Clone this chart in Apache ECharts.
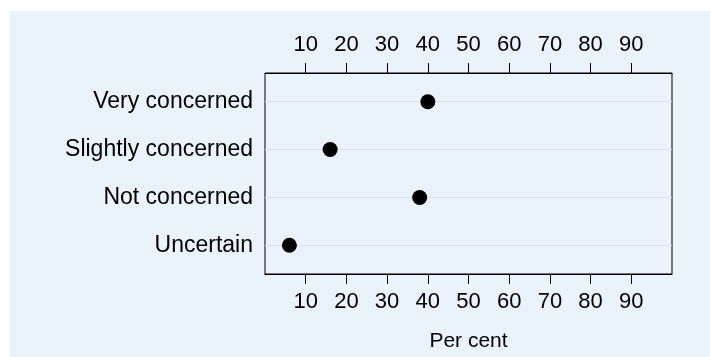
<!DOCTYPE html>
<html>
<head>
<meta charset="utf-8">
<script src="https://cdn.jsdelivr.net/npm/echarts@6/dist/echarts.min.js"></script>
<style>
html,body{margin:0;padding:0;background:#ffffff;}
#chart{width:710px;height:357px;}
</style>
</head>
<body>
<div id="chart"></div>
<script>
const categories = ["Very concerned", "Slightly concerned", "Not concerned", "Uncertain"];
const percent = [40, 16, 38, 6];
const tickValues = [10, 20, 30, 40, 50, 60, 70, 80, 90];
const xName = "Per cent";

const chart = echarts.init(document.getElementById('chart'), null, {renderer: 'canvas'});
const FONT = '"Liberation Sans", Arial, sans-serif';
const catPos = categories.map((c, i) => i + 1);

function xAxisCfg(pos) {
  return {
    type: 'value',
    position: pos,
    min: 0, max: 100, interval: 10,
    name: pos === 'bottom' ? xName : '',
    nameLocation: 'middle',
    nameGap: 57,
    nameTextStyle: {color: '#000', fontSize: 21, fontFamily: FONT},
    axisLine: {show: true, lineStyle: {color: '#000', width: 1}},
    axisTick: {show: true, inside: false, length: 10, customValues: tickValues, lineStyle: {color: '#000', width: 1}},
    axisLabel: {show: true, customValues: tickValues, margin: 17, color: '#000', fontSize: 22, fontFamily: FONT},
    splitLine: {show: false}
  };
}

chart.setOption({
  animation: false,
  backgroundColor: '#ffffff',
  graphic: [{
    type: 'rect', z: -10, silent: true,
    shape: {x: 10, y: 11, width: 700, height: 346},
    style: {fill: '#eaf2fb'}
  }],
  grid: {left: 265, right: 38, top: 73, bottom: 81, show: true, borderColor: '#000', borderWidth: 1, backgroundColor: 'transparent', containLabel: false},
  xAxis: [xAxisCfg('bottom'), xAxisCfg('top')],
  yAxis: {
    type: 'value',
    min: 0.4, max: 4.6,
    inverse: true,
    axisLine: {show: false},
    axisTick: {show: false, customValues: catPos},
    axisLabel: {
      customValues: catPos, margin: 12, color: '#000', fontSize: 23, fontFamily: FONT,
      formatter: v => categories[Math.round(v) - 1] || ''
    },
    splitLine: {show: true, lineStyle: {color: '#dfe3e8', width: 1}}
  },
  series: [{
    type: 'scatter',
    symbol: 'circle',
    symbolSize: 15,
    itemStyle: {color: '#000', opacity: 1},
    data: percent.map((v, i) => [v, catPos[i]])
  }]
});
</script>
</body>
</html>
